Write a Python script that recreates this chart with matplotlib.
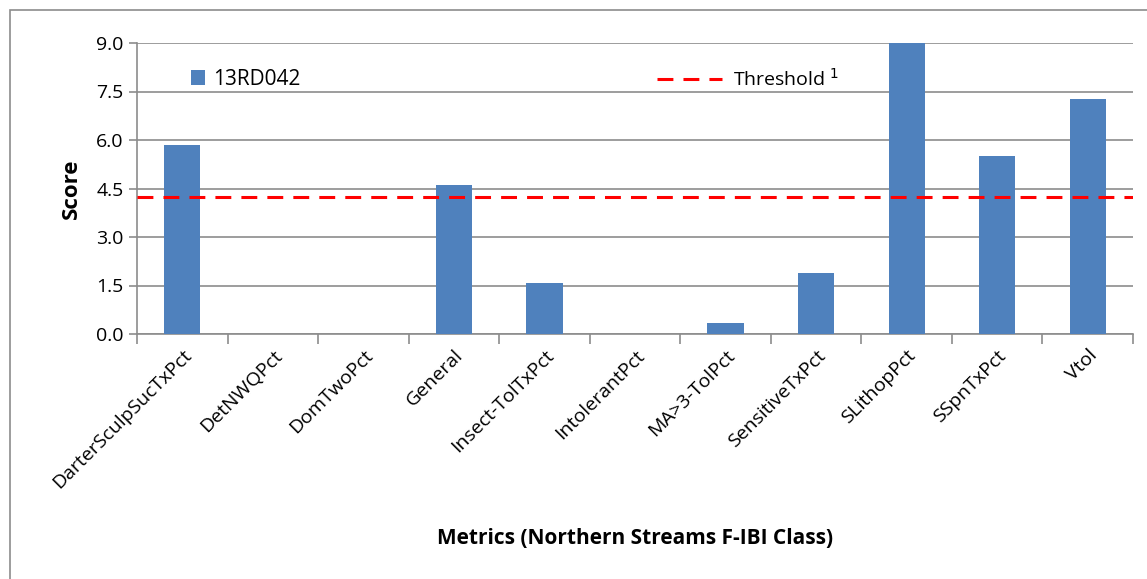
import matplotlib.pyplot as plt
from matplotlib.patches import Rectangle
from matplotlib.lines import Line2D
import numpy as np

# data
metrics = ["DarterSculpSucTxPct", "DetNWQPct", "DomTwoPct", "General", "Insect-TolTxPct",
           "IntolerantPct", "MA>3-TolPct", "SensitiveTxPct", "SLithopPct", "SSpnTxPct", "Vtol"]
scores = [5.85, 0.0, 0.0, 4.61, 1.57, 0.0, 0.34, 1.89, 9.0, 5.52, 7.27]
threshold = 4.23
site = "13RD042"
yticks = [0.0, 1.5, 3.0, 4.5, 6.0, 7.5, 9.0]

plt.rcParams['font.family'] = ['Open Sans', 'DejaVu Sans']

fig = plt.figure(figsize=(11.47, 5.79), dpi=100)
ax = fig.add_axes([137/1147, 1 - 334/579, (1133-137)/1147, (334-43)/579])

# outer chart border
fig.patches.append(Rectangle((10/1147, -0.01), 1.1, (579-10)/579 + 0.01, transform=fig.transFigure,
                             fill=False, edgecolor='#8c8c8c', lw=1.2))

x = np.arange(len(metrics))
dash = (0, (5.2, 3.3))
ax.bar(x, scores, width=0.4, color='#4f81bd', zorder=3, label=site)
ax.axhline(threshold, color='#ff0000', ls=dash, lw=2.2, zorder=4)

ax.set_xlim(-0.5, len(metrics) - 0.5)
ax.set_ylim(0, 9)
ax.set_yticks(yticks)
ax.set_yticklabels([f"{v:.1f}" for v in yticks], fontsize=14)
ax.yaxis.grid(True, color='#8c8c8c', lw=1.2, zorder=0)

ax.set_xticks(np.arange(len(metrics) + 1) - 0.5)
ax.set_xticklabels([])
ax.set_xticks(x, minor=True)
ax.set_xticklabels(metrics, minor=True, rotation=45, ha='right', rotation_mode='anchor',
                   fontsize=14)
ax.tick_params(axis='x', which='minor', length=0, pad=9)
ax.tick_params(axis='x', which='major', length=7, color='#8c8c8c', width=1.2)
ax.tick_params(axis='y', length=6, color='#8c8c8c', width=1.2)

for s in ['top', 'right']:
    ax.spines[s].set_visible(False)
for s in ['left', 'bottom']:
    ax.spines[s].set_color('#8c8c8c')
    ax.spines[s].set_linewidth(1.2)

ax.set_ylabel("Score", fontsize=16, fontweight='bold', labelpad=10)
ax.set_xlabel("Metrics (Northern Streams F-IBI Class)", fontsize=15, fontweight='bold', labelpad=26)

leg1 = ax.legend(loc='upper left', bbox_to_anchor=(0.035, 0.975), frameon=False, fontsize=15,
                 handlelength=0.7, handleheight=0.7, handletextpad=0.4)
ax.add_artist(leg1)
th = Line2D([], [], color='#ff0000', ls=dash, lw=2.2)
ax.legend([th], ["Threshold $^1$"], loc='upper left', bbox_to_anchor=(0.505, 0.975), frameon=False,
          fontsize=14, handlelength=3.3, handletextpad=0.6)

fig.savefig("out.png", dpi=100)
